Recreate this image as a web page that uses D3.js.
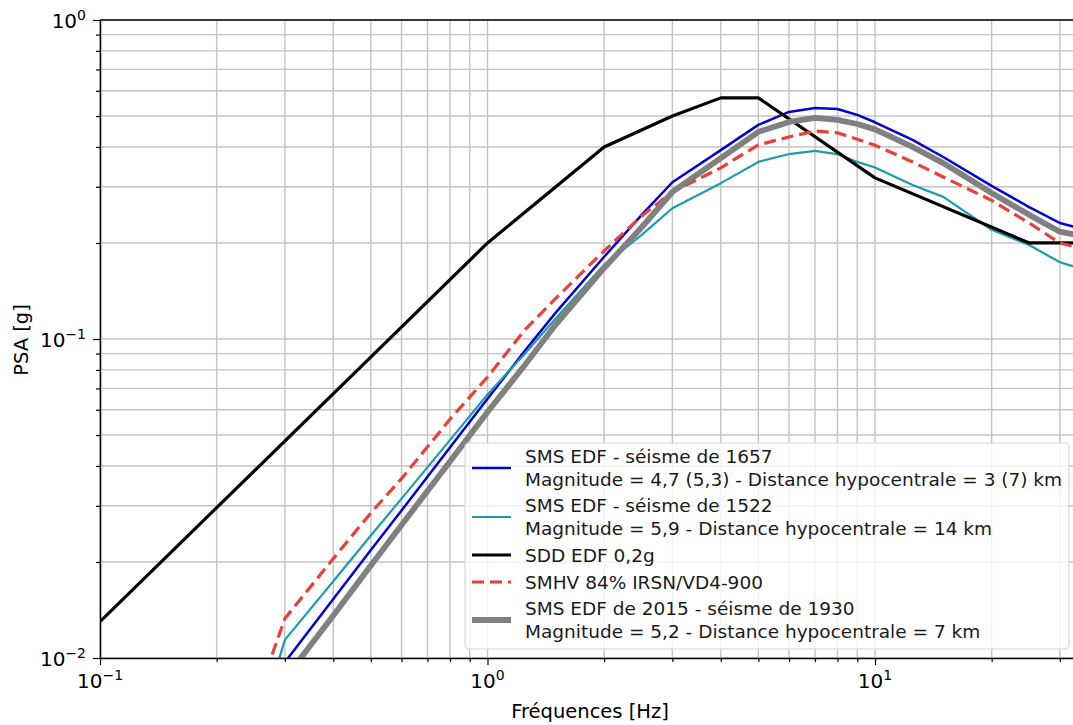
<!DOCTYPE html>
<html>
<head>
<meta charset="utf-8">
<script src="https://cdn.jsdelivr.net/npm/d3@7"></script>
<style>
  body { margin: 0; background: #fff; }
  svg { display: block; font-family: "DejaVu Sans", sans-serif; }
</style>
</head>
<body>
<svg id="chart" width="1073" height="725"></svg>
<script>
// frequencies (Hz) shared by the four SMS / SMHV spectra
const freqs = [0.25, 0.3, 0.4, 0.5, 0.6, 0.8, 1, 1.25, 1.5, 2, 2.5, 3, 4, 5, 6, 7, 8, 9, 10, 12.5, 15, 20, 25, 30, 33];

// PSA [g]
const sms1657 = [0.005, 0.0097, 0.0153, 0.0218, 0.029, 0.0457, 0.065, 0.092, 0.121, 0.181, 0.245, 0.31, 0.391, 0.469, 0.515, 0.53, 0.526, 0.504, 0.478, 0.421, 0.372, 0.302, 0.259, 0.231, 0.224];
const sms1522 = [0.0055, 0.0114, 0.0174, 0.0242, 0.0316, 0.0482, 0.067, 0.09, 0.116, 0.171, 0.212, 0.257, 0.308, 0.359, 0.38, 0.389, 0.38, 0.359, 0.345, 0.304, 0.279, 0.22, 0.197, 0.174, 0.168];
const smhv = [0.0071, 0.0133, 0.0205, 0.0285, 0.0365, 0.056, 0.076, 0.107, 0.134, 0.189, 0.243, 0.289, 0.344, 0.406, 0.43, 0.449, 0.443, 0.423, 0.405, 0.359, 0.322, 0.272, 0.231, 0.2, 0.194];
const sms1930 = [0.005, 0.0086, 0.0136, 0.0195, 0.0261, 0.0413, 0.059, 0.083, 0.111, 0.167, 0.224, 0.289, 0.369, 0.446, 0.479, 0.493, 0.486, 0.472, 0.454, 0.4, 0.356, 0.287, 0.245, 0.217, 0.212];

// SDD EDF 0,2g (own corner frequencies)
const sddFreqs = [0.1, 1, 2, 3, 4, 5, 10, 25, 40];
const sddValues = [0.013, 0.2, 0.4, 0.5, 0.57, 0.57, 0.32, 0.2, 0.2];

const xMajor = [0.1, 1, 10];
const yMajor = [0.01, 0.1, 1];
const xLabels = [["10", "\u22121"], ["10", "0"], ["10", "1"]];
const yLabels = [["10", "\u22122"], ["10", "\u22121"], ["10", "0"]];

const seriesList = [
  {name: ["SMS EDF - séisme de 1657", "Magnitude = 4,7 (5,3) - Distance hypocentrale = 3 (7) km"], x: freqs, y: sms1657, color: "#0000d4", width: 2.5, dash: null},
  {name: ["SMS EDF - séisme de 1522", "Magnitude = 5,9 - Distance hypocentrale = 14 km"], x: freqs, y: sms1522, color: "#1a9dad", width: 2.2, dash: null},
  {name: ["SDD EDF 0,2g"], x: sddFreqs, y: sddValues, color: "#000000", width: 3.2, dash: null},
  {name: ["SMHV 84% IRSN/VD4-900"], x: freqs, y: smhv, color: "#e8413a", width: 3.2, dash: "12,6"},
  {name: ["SMS EDF de 2015 - séisme de 1930", "Magnitude = 5,2 - Distance hypocentrale = 7 km"], x: freqs, y: sms1930, color: "#808080", width: 5.8, dash: null}
];

const svg = d3.select("#chart");
const plotLeft = 100, plotTop = 20, plotBottom = 658, plotRight = 1073;
const decadePx = 387.5;
const xMin = 0.1, xMax = 35;

const x = d3.scaleLog().domain([xMin, xMax]).range([plotLeft, plotLeft + decadePx * Math.log10(xMax / xMin)]);
const y = d3.scaleLog().domain([0.01, 1]).range([plotBottom, plotTop]);

svg.append("rect").attr("width", 1073).attr("height", 725).attr("fill", "#fff");

// minor + major values
let xAll = [], yAll = [];
[0.1, 1, 10].forEach(d => { for (let k = 1; k <= 9; k++) { let v = d * k; if (v <= xMax) xAll.push(v); } });
[0.01, 0.1].forEach(d => { for (let k = 1; k <= 9; k++) yAll.push(d * k); });
yAll.push(1);
const xMinor = xAll.filter(v => !xMajor.some(m => Math.abs(m - v) < 1e-9));
const yMinor = yAll.filter(v => !yMajor.some(m => Math.abs(m - v) < 1e-9));

// grid
const grid = svg.append("g").attr("stroke", "#c4c4c4").attr("stroke-width", 1.4);
grid.selectAll(".gx").data(xAll).join("line")
  .attr("x1", d => x(d)).attr("x2", d => x(d)).attr("y1", plotTop).attr("y2", plotBottom);
grid.selectAll(".gy").data(yAll).join("line")
  .attr("x1", plotLeft).attr("x2", plotRight).attr("y1", d => y(d)).attr("y2", d => y(d));

// curves
svg.append("clipPath").attr("id", "clip").append("rect")
  .attr("x", plotLeft).attr("y", plotTop).attr("width", plotRight - plotLeft).attr("height", plotBottom - plotTop);

const line = d3.line().x(d => x(d[0])).y(d => y(d[1]));
const plot = svg.append("g").attr("clip-path", "url(#clip)");
seriesList.forEach(s => {
  plot.append("path")
    .datum(s.x.map((f, i) => [f, s.y[i]]))
    .attr("d", line)
    .attr("fill", "none")
    .attr("stroke", s.color)
    .attr("stroke-width", s.width)
    .attr("stroke-linejoin", "round")
    .attr("stroke-dasharray", s.dash);
});

// axes
function styleAxis(g) {
  g.select(".domain").attr("stroke", "#000").attr("stroke-width", 1.5);
  g.selectAll(".tick line").attr("stroke", "#000").attr("stroke-width", 1.2);
  g.selectAll(".tick text").remove();
}
svg.append("g").attr("transform", `translate(0,${plotBottom})`)
  .call(d3.axisBottom(x).tickValues(xMajor).tickSize(7).tickSizeOuter(0).tickFormat(""))
  .call(styleAxis);
svg.append("g").attr("transform", `translate(0,${plotBottom})`)
  .call(d3.axisBottom(x).tickValues(xMinor).tickSize(4).tickSizeOuter(0).tickFormat(""))
  .call(styleAxis).select(".domain").remove();
svg.append("g").attr("transform", `translate(${plotLeft},0)`)
  .call(d3.axisLeft(y).tickValues(yMajor).tickSize(7).tickSizeOuter(0).tickFormat(""))
  .call(styleAxis);
svg.append("g").attr("transform", `translate(${plotLeft},0)`)
  .call(d3.axisLeft(y).tickValues(yMinor).tickSize(4).tickSizeOuter(0).tickFormat(""))
  .call(styleAxis).select(".domain").remove();
// top spine
svg.append("line").attr("x1", plotLeft).attr("x2", plotRight).attr("y1", plotTop).attr("y2", plotTop)
  .attr("stroke", "#000").attr("stroke-width", 1.5);

// tick labels with superscripts
function powLabel(g, parts) {
  g.append("tspan").text(parts[0]);
  g.append("tspan").attr("dy", -8).attr("font-size", 14).text(parts[1]);
}
xMajor.forEach((v, i) => {
  const t = svg.append("text").attr("x", x(v)).attr("y", 688)
    .attr("text-anchor", "middle").attr("font-size", 20).attr("fill", "#000");
  powLabel(t, xLabels[i]);
});
yMajor.forEach((v, i) => {
  const t = svg.append("text").attr("x", 86).attr("y", y(v) + 8)
    .attr("text-anchor", "end").attr("font-size", 20).attr("fill", "#000");
  powLabel(t, yLabels[i]);
});

// axis titles
svg.append("text").attr("x", 590).attr("y", 718).attr("text-anchor", "middle")
  .attr("font-size", 19.5).text("Fréquences [Hz]");
svg.append("text").attr("transform", "translate(28,340) rotate(-90)").attr("text-anchor", "middle")
  .attr("font-size", 19.5).text("PSA [g]");

// legend
const legend = svg.append("g");
legend.append("rect").attr("x", 465).attr("y", 443).attr("width", 604).attr("height", 206)
  .attr("rx", 4).attr("fill", "#fff").attr("fill-opacity", 0.8)
  .attr("stroke", "#d5d5d5").attr("stroke-width", 1.2);

const rowCenters = [468, 517, 555, 582, 620];
seriesList.forEach((s, i) => {
  const cy = rowCenters[i];
  legend.append("line").attr("x1", 472).attr("x2", 511).attr("y1", cy).attr("y2", cy)
    .attr("stroke", s.color).attr("stroke-width", s.width).attr("stroke-dasharray", s.dash);
  const n = s.name.length;
  s.name.forEach((txt, j) => {
    legend.append("text").attr("x", 525)
      .attr("y", cy + (j - (n - 1) / 2) * 23 + 6.5)
      .attr("font-size", 18.5).attr("fill", "#1a1a1a").text(txt);
  });
});
</script>
</body>
</html>
